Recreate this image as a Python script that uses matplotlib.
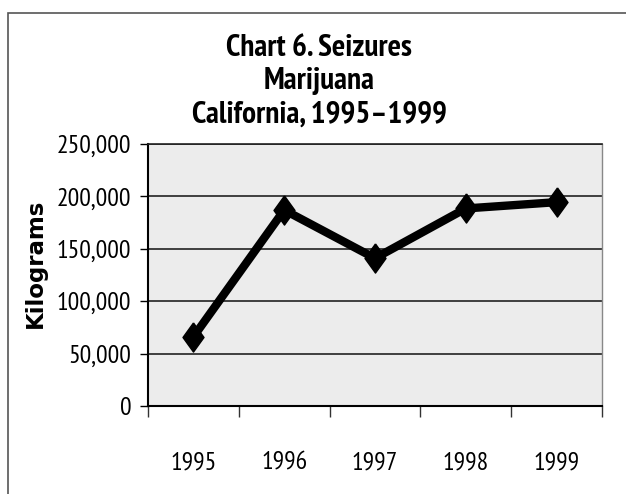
import matplotlib
matplotlib.use("Agg")
import matplotlib.pyplot as plt
from matplotlib.patches import Rectangle
from matplotlib.ticker import FuncFormatter, FixedLocator

years = ["1995", "1996", "1997", "1998", "1999"]
kilograms = [66000, 187000, 141000, 188500, 194500]
y_ticks = [0, 50000, 100000, 150000, 200000, 250000]

# narrow faces stand in for Arial Narrow
NARROW = ["PT Sans Narrow", "Archivo Narrow", "DejaVu Sans"]
NARROW_BOLD = ["PT Sans Narrow", "Barlow Semi Condensed", "DejaVu Sans"]

W, H = 626, 494
fig = plt.figure(figsize=(W / 100, H / 100), dpi=100)

# outer frame, cut off at right and bottom like the source
fig.patches.append(Rectangle((8 / W, -0.1), 1.2, 1 - 13 / H + 0.1, transform=fig.transFigure,
                             fill=False, edgecolor="#555555", linewidth=1.2))

ax = fig.add_axes([148 / W, 88 / H, 454 / W, 262 / H])
ax.set_facecolor("#ECECEC")

x = list(range(len(years)))
diamond = [(0, 1), (0.72, 0), (0, -1), (-0.72, 0), (0, 1)]
ax.plot(x, kilograms, color="black", linewidth=6, marker=diamond, markersize=21,
        markerfacecolor="black", markeredgecolor="black", solid_joinstyle="miter")

ax.set_xlim(-0.5, len(years) - 0.5)
ax.set_ylim(0, 250000)

ax.set_yticks(y_ticks)
ax.yaxis.set_major_formatter(FuncFormatter(lambda v, p: f"{int(v):,}"))
ax.grid(axis="y", color="#222222", linewidth=1.2)
ax.set_axisbelow(True)

# category ticks at the boundaries, labels in the middle
ax.xaxis.set_major_locator(FixedLocator([i - 0.5 for i in range(len(years) + 1)]))
ax.xaxis.set_minor_locator(FixedLocator(x))
ax.set_xticklabels([])
ax.set_xticklabels(years, minor=True)
ax.tick_params(axis="x", which="major", length=8, width=1, color="#333333", direction="out")
ax.tick_params(axis="x", which="minor", length=0, pad=33)
ax.tick_params(axis="y", length=6, width=1, pad=6)

for lab in ax.get_yticklabels() + ax.get_xticklabels(minor=True):
    lab.set_fontfamily(NARROW)
    lab.set_fontsize(18.5)

for side in ["left", "bottom"]:
    ax.spines[side].set_color("black")
    ax.spines[side].set_linewidth(1.5)
ax.spines["top"].set_color("#222222")
ax.spines["top"].set_linewidth(1.2)
ax.spines["right"].set_color("#888888")
ax.spines["right"].set_linewidth(1)

fig.text(35 / W, 1 - 263 / H, "Kilograms", rotation=90, ha="center", va="center",
         fontsize=16.5, fontweight="bold", family=["DejaVu Sans"])

fig.text(0.5 + 0.01, 1 - 81 / H, "Chart 6. Seizures\nMarijuana\nCalifornia, 1995\u20131999",
         ha="center", va="center", fontsize=22.5, fontweight="bold", family=NARROW_BOLD,
         linespacing=1.25)

fig.savefig("out.png", dpi=100)
